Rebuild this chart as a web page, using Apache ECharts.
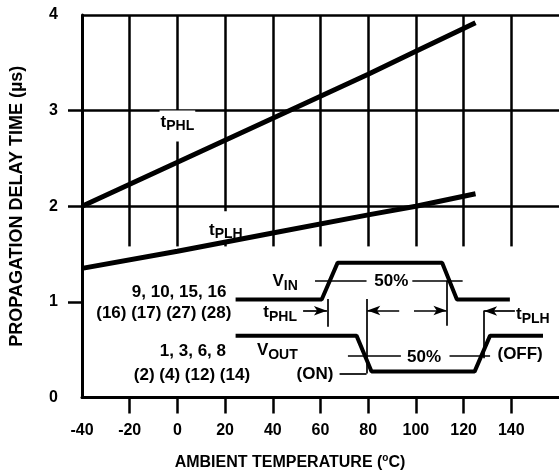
<!DOCTYPE html>
<html>
<head>
<meta charset="utf-8">
<script src="https://cdn.jsdelivr.net/npm/echarts@6/dist/echarts.min.js"></script>
<style>
  html, body { margin: 0; padding: 0; background: #fff; }
  #chart { width: 559px; height: 476px; }
</style>
</head>
<body>
<div id="chart"></div>
<script>
// temperature (°C) vs delay (µs)
var temps = [-40, 0, 40, 80, 100, 125];
var tPHL = [2.0, 2.46, 2.92, 3.38, 3.62, 3.92];
var tPLH = [1.35, 1.53, 1.72, 1.91, 2.0, 2.13];

var xTicks = [-40, -20, 0, 20, 40, 60, 80, 100, 120, 140];
var gridTemps = [-20, 0, 20, 40, 60, 80, 100, 120, 140];
var gridSpan = [4, 1.58];
var gridLevels = [2, 3, 4];

// inset timing sketch, drawn in chart units
var vinT = [24.4, 60.5, 67.2, 111, 117.2, 139.4];
var vinV = [1.025, 1.025, 1.41, 1.41, 1.025, 1.025];
var voutT = [24.4, 75.1, 81.4, 124.6, 131.1, 153.3];
var voutV = [0.647, 0.647, 0.271, 0.271, 0.647, 0.647];

// thin guide lines: [x1, y1, x2, y2, arrow at end]
var guides = [
  [57.7, 1.223, 79.3, 1.223, 0],
  [98.5, 1.223, 119.6, 1.223, 0],
  [71.5, 0.441, 93.7, 0.441, 0],
  [114.1, 0.441, 131.1, 0.441, 0],
  [63.1, 1.03, 63.1, 0.74, 0],
  [79.3, 1.03, 79.3, 0.25, 0],
  [113.1, 1.22, 113.1, 0.75, 0],
  [128.3, 0.91, 128.3, 0.41, 0],
  [68, 0.25, 79.3, 0.25, 0],
  [52.7, 0.907, 62.7, 0.907, 1],
  [93, 0.91, 79.6, 0.91, 1],
  [99.2, 0.91, 112.8, 0.91, 1],
  [141.5, 0.905, 128.6, 0.905, 1]
];

// text notes: [x, y, text, align, box (0 = none)]
var notes = [
  [0, 2.84, 't{s|PHL}', 'center', 1],
  [20.3, 1.79, 't{s|PLH}', 'center', 2],
  [0.7, 1.105, '9, 10, 15, 16', 'center', 0],
  [-5.7, 0.876, '(16) (17) (27) (28)', 'center', 0],
  [6.5, 0.48, '1, 3, 6, 8', 'center', 0],
  [6.1, 0.23, '(2) (4) (12) (14)', 'center', 0],
  [45.2, 1.21, 'V{s|IN}', 'center', 0],
  [89.7, 1.21, '50%', 'center', 0],
  [43.1, 0.886, 't{s|PHL}', 'center', 0],
  [41.9, 0.49, 'V{s|OUT}', 'center', 0],
  [57.7, 0.24, '(ON)', 'center', 0],
  [103.4, 0.417, '50%', 'center', 0],
  [143.7, 0.45, '(OFF)', 'center', 0],
  [142, 0.865, 't{s|PLH}', 'left', 0]
];

// white gaps cut into the grid behind the curve labels
var boxPads = { 1: [0, 1, 8, 1], 2: [7, 1, 0, 1] };

var FONT = '"Liberation Sans", Arial, sans-serif';

function zip(xs, ys) {
  return xs.map(function (x, i) { return [x, ys[i]]; });
}

var gridMarks = gridTemps.map(function (t) {
  return [{ coord: [t, gridSpan[0]] }, { coord: [t, gridSpan[1]] }];
});
gridLevels.forEach(function (v) {
  gridMarks.push({ yAxis: v });
});

var guideMarks = guides.map(function (g) {
  return [
    { coord: [g[0], g[1]], symbol: 'none' },
    { coord: [g[2], g[3]], symbol: g[4] ? 'arrow' : 'none', symbolSize: [7, 13] }
  ];
});

var noteData = notes.map(function (n) {
  return {
    value: [n[0], n[1]],
    label: {
      formatter: n[2],
      align: n[3],
      backgroundColor: n[4] ? '#fff' : 'transparent',
      padding: n[4] ? boxPads[n[4]] : 0
    }
  };
});

var chart = echarts.init(document.getElementById('chart'));
var option = {
  backgroundColor: '#fff',
  animation: false,
  grid: { left: 80, top: 15, width: 481, height: 384 },
  xAxis: {
    type: 'value',
    min: -40,
    max: 160,
    interval: 20,
    name: 'AMBIENT TEMPERATURE ({sup|o}C)',
    nameLocation: 'middle',
    nameGap: 56,
    nameTextStyle: {
      color: '#000', fontFamily: FONT, fontWeight: 'bold', fontSize: 16,
      padding: [0, 61, 0, 0],
      rich: { sup: { fontSize: 10, fontWeight: 'bold', fontFamily: FONT, padding: [0, 0, 9, 0] } }
    },
    axisLine: { onZero: false, lineStyle: { color: '#000', width: 3 } },
    axisTick: { length: 16, lineStyle: { color: '#000', width: 2.5 }, customValues: gridTemps },
    axisLabel: {
      color: '#000', fontFamily: FONT, fontWeight: 'bold', fontSize: 16, margin: 25,
      customValues: xTicks
    },
    splitLine: { show: false }
  },
  yAxis: {
    type: 'value',
    min: 0,
    max: 4,
    interval: 1,
    name: 'PROPAGATION DELAY TIME (µs)',
    nameLocation: 'middle',
    nameRotate: 90,
    nameGap: 56,
    nameTextStyle: { color: '#000', fontFamily: FONT, fontWeight: 'bold', fontSize: 18 },
    axisLine: { show: true, onZero: false, lineStyle: { color: '#000', width: 3 } },
    axisTick: { show: true, length: 14, lineStyle: { color: '#000', width: 2.5 }, customValues: [1, 2, 3] },
    axisLabel: { color: '#000', fontFamily: FONT, fontWeight: 'bold', fontSize: 16, margin: 24 },
    splitLine: { show: false }
  },
  series: [
    {
      name: 'grid',
      type: 'line',
      data: [],
      silent: true,
      z: 1,
      markLine: {
        silent: true,
        symbol: 'none',
        label: { show: false },
        lineStyle: { color: '#000', width: 2.5, type: 'solid' },
        data: gridMarks
      }
    },
    {
      name: 'tPHL',
      type: 'line',
      data: zip(temps, tPHL),
      showSymbol: false,
      lineStyle: { color: '#000', width: 5 },
      z: 6
    },
    {
      name: 'tPLH',
      type: 'line',
      data: zip(temps, tPLH),
      showSymbol: false,
      lineStyle: { color: '#000', width: 5 },
      z: 6
    },
    {
      name: 'VIN',
      type: 'line',
      data: zip(vinT, vinV),
      showSymbol: false,
      lineStyle: { color: '#000', width: 4 },
      z: 3
    },
    {
      name: 'VOUT',
      type: 'line',
      data: zip(voutT, voutV),
      showSymbol: false,
      lineStyle: { color: '#000', width: 4 },
      z: 3
    },
    {
      name: 'guides',
      type: 'line',
      data: [],
      silent: true,
      markLine: {
        silent: true,
        label: { show: false },
        lineStyle: { color: '#000', width: 1.7, type: 'solid' },
        itemStyle: { color: '#000' },
        data: guideMarks
      }
    },
    {
      name: 'notes',
      type: 'scatter',
      symbolSize: 0,
      silent: true,
      z: 5,
      itemStyle: { color: '#fff', opacity: 1 },
      data: noteData,
      label: {
        show: true,
        position: 'inside',
        verticalAlign: 'middle',
        color: '#000',
        textBorderWidth: 0,
        textBorderColor: 'transparent',
        borderWidth: 0,
        fontFamily: FONT,
        fontWeight: 'bold',
        fontSize: 17,
        rich: {
          s: { fontFamily: FONT, fontWeight: 'bold', fontSize: 14, color: '#000', padding: [9, 0, 0, 0] }
        }
      }
    }
  ]
};
chart.setOption(option);
window.addEventListener('resize', function () { chart.resize(); });
</script>
</body>
</html>
